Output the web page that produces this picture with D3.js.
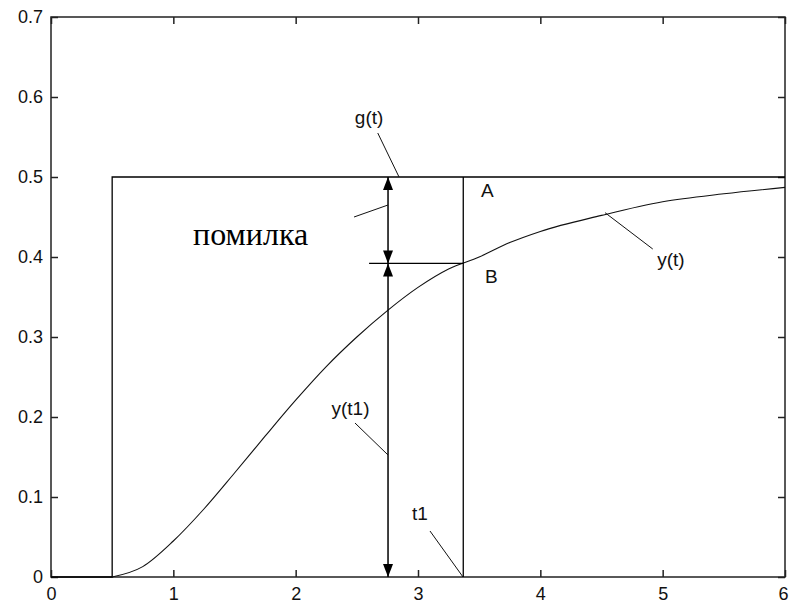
<!DOCTYPE html>
<html>
<head>
<meta charset="utf-8">
<script src="https://cdn.jsdelivr.net/npm/d3@7"></script>
<style>
  body { margin: 0; background: #fff; }
  text { font-family: "Liberation Sans", Arial, sans-serif; }
</style>
</head>
<body>
<div id="graph"></div>
<script>
//step input g(t)
let gT = [0, 0.5, 0.5, 6];
let gV = [0, 0, 0.5, 0.5];

//response y(t)
let yT = [0.5, 0.75, 1, 1.25, 1.5, 1.75, 2, 2.25, 2.5, 2.75, 3, 3.25, 3.5, 3.75, 4, 4.5, 5, 5.5, 6];
let yV = [0, 0.013, 0.045, 0.085, 0.13, 0.176, 0.221, 0.263, 0.3, 0.333, 0.362, 0.385, 0.4, 0.418, 0.432, 0.452, 0.469, 0.479, 0.487];

//moment t1 and the error marker
let t1 = 3.37;
let yAtT1 = 0.392;
let tArrow = 2.755;
let tHoriz = 2.6;

//ticks
let xTicks = [0, 1, 2, 3, 4, 5, 6];
let yTicks = [0, 0.1, 0.2, 0.3, 0.4, 0.5, 0.6, 0.7];
let yTickLabels = ["0", "0.1", "0.2", "0.3", "0.4", "0.5", "0.6", "0.7"];

//labels and their leader lines (data units)
let labels = [
    {text: "g(t)", t: 2.6, v: 0.566, anchor: "middle"},
    {text: "A", t: 3.515, v: 0.475, anchor: "start"},
    {text: "B", t: 3.548, v: 0.3675, anchor: "start"},
    {text: "y(t)", t: 5.068, v: 0.389, anchor: "middle"},
    {text: "y(t1)", t: 2.448, v: 0.2025, anchor: "middle"},
    {text: "t1", t: 3.016, v: 0.071, anchor: "middle"}
];
let leaders = [
    [[2.671, 0.555], [2.845, 0.5]],
    [[2.477, 0.45], [2.755, 0.465]],
    [[4.529, 0.4554], [4.919, 0.41]],
    [[2.485, 0.1925], [2.755, 0.1525]],
    [[3.098, 0.0575], [3.368, 0]]
];

let width = 789, height = 603;
let margin = {left: 51, right: 4, top: 17, bottom: 26};

let svg = d3.select("#graph")
    .append("svg")
    .attr("width", width)
    .attr("height", height);

let x = d3.scaleLinear().domain([0, 6]).range([margin.left, width - margin.right]);
let y = d3.scaleLinear().domain([0, 0.7]).range([height - margin.bottom, margin.top]);

//box with inward ticks on all sides
let tickLen = 7;
svg.append("g")
    .attr("class", "xaxis")
    .attr("transform", `translate(0,${y(0)})`)
    .call(d3.axisBottom(x).tickValues(xTicks).tickSize(-tickLen).tickPadding(10).tickFormat(d3.format("d")))
    .call(g => g.select(".domain").remove());
svg.append("g")
    .attr("transform", `translate(0,${y(0.7)})`)
    .call(d3.axisTop(x).tickValues(xTicks).tickSize(-tickLen).tickFormat(""))
    .call(g => g.select(".domain").remove());
svg.append("g")
    .attr("transform", `translate(${x(0)},0)`)
    .call(d3.axisLeft(y).tickValues(yTicks).tickSize(-tickLen).tickPadding(8)
        .tickFormat((d, i) => yTickLabels[i]))
    .call(g => g.select(".domain").remove());
svg.append("g")
    .attr("transform", `translate(${x(6)},0)`)
    .call(d3.axisRight(y).tickValues(yTicks).tickSize(-tickLen).tickFormat(""))
    .call(g => g.select(".domain").remove());

svg.selectAll(".tick line").attr("stroke", "#222").attr("stroke-width", 1.5);
svg.selectAll(".tick text")
    .attr("fill", "#111")
    .style("font-size", "18px")
    .style("font-family", "Liberation Sans, Arial, sans-serif");

//last x label sits against the right edge
svg.selectAll(".xaxis .tick text").filter(d => d === 6).attr("dx", -2);

svg.append("rect")
    .attr("x", x(0)).attr("y", y(0.7))
    .attr("width", x(6) - x(0)).attr("height", y(0) - y(0.7))
    .attr("fill", "none").attr("stroke", "#222").attr("stroke-width", 1.5);

let line = d3.line().x(d => x(d[0])).y(d => y(d[1]));

//g(t)
svg.append("path")
    .attr("d", line(gT.map((t, i) => [t, gV[i]])))
    .attr("fill", "none").attr("stroke", "#000").attr("stroke-width", 1.3);

//y(t)
svg.append("path")
    .attr("d", d3.line().curve(d3.curveMonotoneX).x(d => x(d[0])).y(d => y(d[1]))(yT.map((t, i) => [t, yV[i]])))
    .attr("fill", "none").attr("stroke", "#111").attr("stroke-width", 1.1);

//t1 vertical and horizontal at y(t1)
svg.append("path")
    .attr("d", line([[t1, 0], [t1, 0.5]]))
    .attr("stroke", "#000").attr("stroke-width", 1.3);
svg.append("path")
    .attr("d", line([[tHoriz, yAtT1], [t1, yAtT1]]))
    .attr("stroke", "#000").attr("stroke-width", 1.3);

//double arrows
svg.append("path")
    .attr("d", line([[tArrow, 0], [tArrow, 0.5]]))
    .attr("stroke", "#000").attr("stroke-width", 1.5);

let heads = [
    {v: 0.5, dir: -1},
    {v: yAtT1, dir: 1},
    {v: yAtT1, dir: -1},
    {v: 0, dir: 1}
];
svg.selectAll(".head").data(heads).enter()
    .append("path")
    .attr("class", "head")
    .attr("d", d => {
        let px = x(tArrow), py = y(d.v);
        let b = py - d.dir * 13;
        return `M${px},${py}L${px - 5},${b}L${px + 5},${b}Z`;
    })
    .attr("fill", "#000");

//leader lines
svg.selectAll(".leader").data(leaders).enter()
    .append("path")
    .attr("class", "leader")
    .attr("d", d => line(d))
    .attr("stroke", "#111").attr("stroke-width", 1);

//labels
svg.selectAll(".lbl").data(labels).enter()
    .append("text")
    .attr("class", "lbl")
    .attr("x", d => x(d.t))
    .attr("y", d => y(d.v))
    .attr("text-anchor", d => d.anchor)
    .style("font-size", "19px")
    .attr("fill", "#111")
    .text(d => d.text);

svg.append("text")
    .attr("x", x(1.161))
    .attr("y", y(0.415))
    .style("font-family", "Liberation Serif, Times New Roman, serif")
    .style("font-size", "32px")
    .text("помилка");
</script>
</body>
</html>
